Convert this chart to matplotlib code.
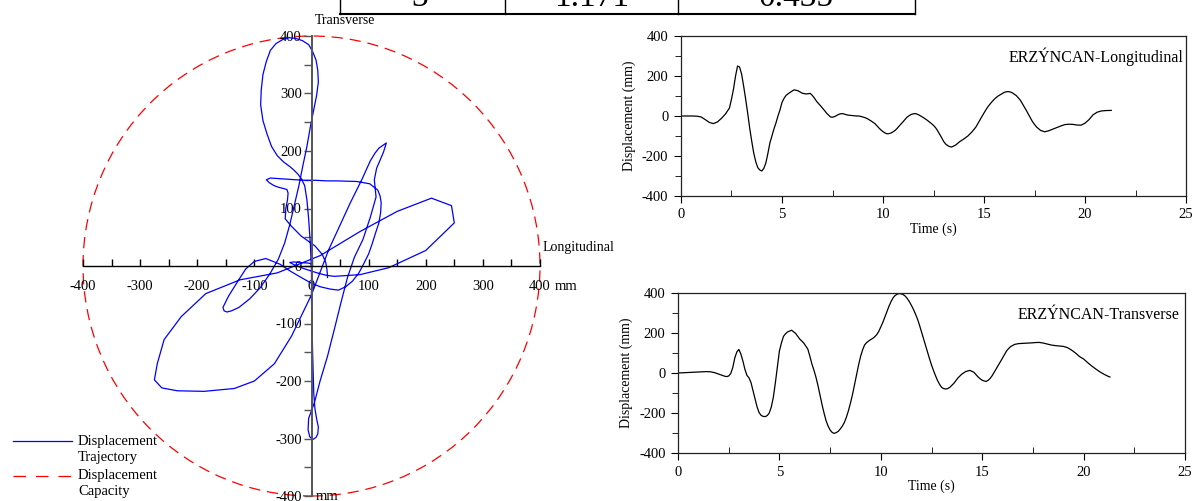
import numpy as np
import matplotlib
matplotlib.use("Agg")
import matplotlib.pyplot as plt
from matplotlib.patches import Circle
from matplotlib.lines import Line2D
from matplotlib.ticker import MultipleLocator

plt.rcParams['font.family'] = ['Liberation Serif', 'DejaVu Serif']
plt.rcParams['axes.unicode_minus'] = False

# ---------------- data ----------------
time = [0.0, 0.2, 0.4, 0.6, 0.8, 1.0, 1.2, 1.4, 1.6, 1.8,
        2.0, 2.2, 2.3, 2.4, 2.5, 2.6, 2.7, 2.8, 2.9, 3.0,
        3.1, 3.2, 3.3, 3.4, 3.5, 3.6, 3.7, 3.8, 3.9, 4.0,
        4.1, 4.2, 4.3, 4.4, 4.5, 4.6, 4.7, 4.8, 4.9, 5.0,
        5.1, 5.2, 5.3, 5.4, 5.6, 5.8, 6.0, 6.2, 6.4, 6.5,
        6.6, 6.7, 6.8, 6.9, 7.0, 7.1, 7.2, 7.3, 7.4, 7.5,
        7.6, 7.7, 7.8, 7.9, 8.0, 8.1, 8.2, 8.3, 8.4, 8.5,
        8.6, 8.7, 8.8, 8.9, 9.0, 9.1, 9.2, 9.3, 9.4, 9.5,
        9.6, 9.7, 9.8, 9.9, 10.0, 10.1, 10.2, 10.3, 10.4, 10.5,
        10.6, 10.7, 10.8, 10.9, 11.0, 11.1, 11.2, 11.3, 11.4, 11.5,
        11.6, 11.7, 11.8, 11.9, 12.0, 12.1, 12.2, 12.3, 12.4, 12.5,
        12.6, 12.7, 12.8, 12.9, 13.0, 13.1, 13.2, 13.3, 13.4, 13.6,
        13.8, 14.0, 14.2, 14.4, 14.6, 14.7, 14.8, 14.9, 15.0, 15.1,
        15.2, 15.3, 15.4, 15.5, 15.6, 15.7, 15.8, 15.9, 16.0, 16.1,
        16.2, 16.3, 16.4, 16.6, 16.8, 17.0, 17.1, 17.2, 17.3, 17.4,
        17.5, 17.6, 17.8, 18.0, 18.2, 18.4, 18.6, 18.8, 19.0, 19.2,
        19.4, 19.6, 19.8, 20.0, 20.2, 20.4, 20.6, 20.8, 21.0, 21.2,
        21.3]
longitudinal = [0, 0, 0, 0, -1, -5, -18, -32, -38, -30,
                -12, 10, 25, 40, 85, 135, 200, 250, 245, 210,
                150, 85, 15, -60, -125, -185, -228, -258, -270, -275,
                -262, -235, -188, -135, -100, -65, -35, 0, 30, 68,
                88, 103, 111, 118, 131, 126, 114, 110, 113, 103,
                90, 75, 63, 52, 40, 28, 15, 5, -5, -6,
                -3, 2, 8, 11, 12, 9, 6, 4, 3, 2,
                1, 0, 0, -2, -5, -8, -12, -18, -24, -31,
                -38, -49, -60, -70, -78, -85, -89, -88, -85, -79,
                -72, -62, -50, -39, -28, -16, -5, 2, 8, 11,
                12, 9, 4, -2, -8, -15, -22, -30, -38, -47,
                -58, -73, -90, -108, -127, -140, -148, -153, -155, -145,
                -128, -115, -100, -80, -55, -37, -18, -2, 15, 32,
                47, 60, 72, 83, 92, 100, 106, 112, 118, 121,
                122, 120, 116, 102, 79, 45, 27, 8, -10, -28,
                -42, -55, -72, -79, -74, -66, -58, -50, -43, -41,
                -42, -45, -46, -36, -18, 6, 19, 25, 27, 28,
                28]
transverse = [0, 1, 2, 3, 4, 5, 6, 7, 6, 2,
              -5, -12, -16, -18, -15, -3, 27, 75, 105, 118,
              95, 60, 18, -12, -24, -48, -88, -128, -170, -198,
              -212, -217, -218, -213, -200, -170, -122, -50, 28, 110,
              150, 183, 196, 205, 214, 198, 170, 150, 120, 85,
              46, 15, -20, -62, -110, -157, -200, -238, -265, -285,
              -297, -302, -298, -292, -280, -266, -248, -222, -190, -152,
              -110, -60, -10, 38, 82, 115, 140, 152, 160, 167,
              173, 181, 192, 208, 230, 253, 280, 306, 333, 356,
              375, 387, 394, 397, 396, 392, 385, 373, 358, 340,
              320, 297, 272, 242, 208, 175, 140, 106, 72, 40,
              12, -14, -38, -57, -72, -78, -80, -78, -72, -52,
              -25, -5, 8, 13, 3, -9, -20, -29, -36, -40,
              -42, -36, -26, -12, 5, 21, 38, 57, 75, 93,
              110, 122, 132, 143, 147, 148, 148, 149, 149, 150,
              151, 152, 153, 150, 145, 140, 137, 135, 133, 127,
              115, 100, 82, 70, 52, 35, 20, 6, -6, -16,
              -20]
capacity = 400  # mm
table_values = ["3", "1.171", "0.435"]
station = "ERZ\u00DDNCAN"

W, H = 1198, 501
fig = plt.figure(figsize=(W / 100, H / 100), dpi=100)

def fx(px):
    return px / W

def fy(py):
    return 1 - py / H

# ---------------- table fragment at top ----------------
fig.add_artist(Line2D([fx(340), fx(915)], [fy(14), fy(14)], color='black', lw=1.5))
for xv in [340, 505, 678, 915]:
    fig.add_artist(Line2D([fx(xv), fx(xv)], [fy(14), 1.02], color='black', lw=1.0))
for xv, s in zip([420, 592, 796], table_values):
    fig.text(fx(xv), fy(6), s, ha='center', va='baseline', fontsize=24)

# ---------------- orbit plot ----------------
ax0 = fig.add_axes([fx(83), fy(496), fx(540) - fx(83), fy(36) - fy(496)])
ax0.set_xlim(-capacity, capacity)
ax0.set_ylim(-capacity, capacity)
ax0.patch.set_visible(False)
for s in ['top', 'right']:
    ax0.spines[s].set_visible(False)
ax0.spines['left'].set_position(('data', 0))
ax0.spines['bottom'].set_position(('data', 0))
ax0.spines['left'].set_color('#555555')
ax0.spines['left'].set_linewidth(1.4)
ax0.spines['bottom'].set_color('black')
ax0.spines['bottom'].set_linewidth(1.0)
ax0.xaxis.set_major_locator(MultipleLocator(100))
ax0.xaxis.set_minor_locator(MultipleLocator(50))
ax0.yaxis.set_major_locator(MultipleLocator(100))
ax0.yaxis.set_minor_locator(MultipleLocator(50))
ax0.tick_params(axis='x', which='both', direction='in', length=5, width=1.0,
                labelsize=10.5, pad=10)
ax0.tick_params(axis='y', which='both', direction='out', length=6, width=1.0,
                color='#555555', labelsize=10.5, pad=1)

traj, = ax0.plot(longitudinal, transverse, color='#0000ff', lw=0.9)
circ = Circle((0, 0), capacity, fill=False, edgecolor='red', lw=0.9,
              linestyle=(0, (9, 5.5)), clip_on=False)
ax0.add_patch(circ)

fig.text(fx(345), fy(20), "Transverse", ha='center', va='center', fontsize=10)
fig.text(fx(543), fy(248), "Longitudinal", ha='left', va='center', fontsize=10)
fig.text(fx(555), fy(286), "mm", ha='left', va='center', fontsize=10.5)
fig.text(fx(316), fy(497), "mm", ha='left', va='center', fontsize=10.5)

# legend (drawn manually)
fig.add_artist(Line2D([fx(13), fx(72)], [fy(441), fy(441)], color='#0000ff', lw=0.9))
fig.text(fx(78), fy(441), "Displacement", ha='left', va='center', fontsize=10.5)
fig.text(fx(78), fy(458), "Trajectory", ha='left', va='center', fontsize=10.5)
fig.add_artist(Line2D([fx(13), fx(72)], [fy(476), fy(476)], color='red', lw=0.9,
                      linestyle=(0, (10, 8))))
fig.text(fx(78), fy(476), "Displacement", ha='left', va='center', fontsize=10.5)
fig.text(fx(78), fy(492), "Capacity", ha='left', va='center', fontsize=10.5)

# ---------------- time histories ----------------
def style_ts(ax):
    ax.set_xlim(0, 25)
    ax.set_ylim(-400, 400)
    ax.xaxis.set_major_locator(MultipleLocator(5))
    ax.xaxis.set_minor_locator(MultipleLocator(2.5))
    ax.yaxis.set_major_locator(MultipleLocator(200))
    ax.yaxis.set_minor_locator(MultipleLocator(100))
    ax.tick_params(axis='x', which='major', direction='out', length=5, labelsize=10.5, pad=4)
    ax.tick_params(axis='x', which='minor', direction='in', length=4)
    ax.tick_params(axis='y', which='major', direction='out', length=5, labelsize=10.5, pad=4)
    ax.tick_params(axis='y', which='minor', direction='out', length=4)
    for s in ax.spines.values():
        s.set_linewidth(0.9)
        s.set_color('#222222')
    ax.set_xlabel("Time (s)", fontsize=10, labelpad=1)
    ax.set_ylabel("Displacement (mm)", fontsize=10, labelpad=4)

ax1 = fig.add_axes([fx(681), fy(196), fx(1186) - fx(681), fy(36) - fy(196)])
ax1.plot(time, longitudinal, color='black', lw=0.9)
style_ts(ax1)
ax1.text(0.995, 0.87, station + "-Longitudinal", transform=ax1.transAxes,
         ha='right', va='center', fontsize=11.5)

ax2 = fig.add_axes([fx(678), fy(453), fx(1185) - fx(678), fy(293) - fy(453)])
ax2.plot(time, transverse, color='black', lw=0.9)
style_ts(ax2)
ax2.text(0.99, 0.86, station + "-Transverse", transform=ax2.transAxes,
         ha='right', va='center', fontsize=11.5)

fig.savefig("out.png", dpi=100)
